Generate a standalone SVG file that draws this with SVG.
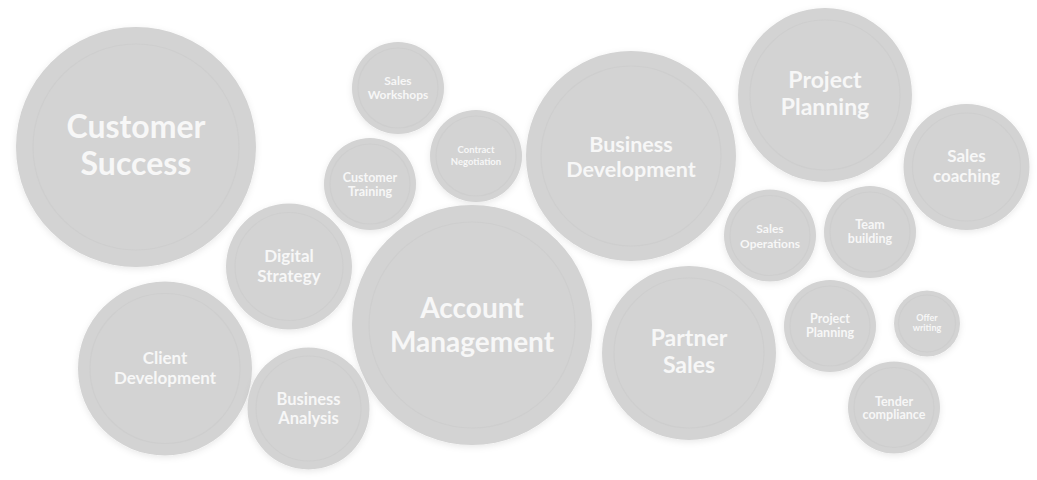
<svg xmlns="http://www.w3.org/2000/svg" width="1037" height="480" viewBox="0 0 1037 480">
  <style>
    .bubble { fill: #d3d3d3; filter: url(#soft); }
    .ring { fill: none; stroke: #cecece; stroke-width: 1.2; }
    .label { fill: #f7f7f7; font-family: Lato, "Open Sans", "Liberation Sans", sans-serif; font-weight: 700; text-anchor: middle; }
  </style>
  <defs>
    <filter id="soft" x="-20%" y="-20%" width="140%" height="140%">
      <feDropShadow dx="0" dy="2" stdDeviation="3" flood-color="#000" flood-opacity="0.09"/>
    </filter>
  </defs>
  <rect width="1037" height="480" fill="#ffffff"/>

  <g id="customer-success">
    <circle class="bubble" cx="136" cy="147" r="120"/>
    <circle class="ring" cx="136" cy="147" r="103"/>
    <text class="label" font-size="32"><tspan x="136" y="138">Customer</tspan><tspan x="136" y="175">Success</tspan></text>
  </g>

  <g id="sales-workshops">
    <circle class="bubble" cx="398" cy="88" r="46"/>
    <circle class="ring" cx="398" cy="88" r="40"/>
    <text class="label" font-size="12"><tspan x="398" y="85">Sales</tspan><tspan x="398" y="99">Workshops</tspan></text>
  </g>

  <g id="contract-negotiation">
    <circle class="bubble" cx="476" cy="156" r="46"/>
    <circle class="ring" cx="476" cy="156" r="40"/>
    <text class="label" font-size="9.5"><tspan x="476" y="153">Contract</tspan><tspan x="476" y="165">Negotiation</tspan></text>
  </g>

  <g id="customer-training">
    <circle class="bubble" cx="370" cy="184" r="46"/>
    <circle class="ring" cx="370" cy="184" r="40"/>
    <text class="label" font-size="12.5"><tspan x="370" y="182">Customer</tspan><tspan x="370" y="195.5">Training</tspan></text>
  </g>

  <g id="business-development">
    <circle class="bubble" cx="631" cy="156" r="105"/>
    <circle class="ring" cx="631" cy="156" r="90"/>
    <text class="label" font-size="21.5"><tspan x="631" y="152">Business</tspan><tspan x="631" y="177">Development</tspan></text>
  </g>

  <g id="project-planning-main">
    <circle class="bubble" cx="825" cy="95" r="87"/>
    <circle class="ring" cx="825" cy="95" r="75"/>
    <text class="label" font-size="23"><tspan x="825" y="88">Project</tspan><tspan x="825" y="115">Planning</tspan></text>
  </g>

  <g id="sales-coaching">
    <circle class="bubble" cx="966.5" cy="167" r="63"/>
    <circle class="ring" cx="966.5" cy="167" r="54"/>
    <text class="label" font-size="17"><tspan x="966.5" y="162">Sales</tspan><tspan x="966.5" y="182">coaching</tspan></text>
  </g>

  <g id="digital-strategy">
    <circle class="bubble" cx="289" cy="266.5" r="63"/>
    <circle class="ring" cx="289" cy="266.5" r="54"/>
    <text class="label" font-size="17"><tspan x="289" y="262">Digital</tspan><tspan x="289" y="282">Strategy</tspan></text>
  </g>

  <g id="account-management">
    <circle class="bubble" cx="472" cy="325" r="120"/>
    <circle class="ring" cx="472" cy="325" r="103"/>
    <text class="label" font-size="28"><tspan x="472" y="318">Account</tspan><tspan x="472" y="352">Management</tspan></text>
  </g>

  <g id="client-development">
    <circle class="bubble" cx="165" cy="368.5" r="87"/>
    <circle class="ring" cx="165" cy="368.5" r="75"/>
    <text class="label" font-size="17"><tspan x="165" y="364">Client</tspan><tspan x="165" y="383.5">Development</tspan></text>
  </g>

  <g id="business-analysis">
    <circle class="bubble" cx="308.5" cy="408.5" r="61"/>
    <circle class="ring" cx="308.5" cy="408.5" r="52.5"/>
    <text class="label" font-size="16.5"><tspan x="308.5" y="405">Business</tspan><tspan x="308.5" y="424">Analysis</tspan></text>
  </g>

  <g id="partner-sales">
    <circle class="bubble" cx="689" cy="353" r="87"/>
    <circle class="ring" cx="689" cy="353" r="75"/>
    <text class="label" font-size="23"><tspan x="689" y="346">Partner</tspan><tspan x="689" y="373">Sales</tspan></text>
  </g>

  <g id="sales-operations">
    <circle class="bubble" cx="770" cy="235.5" r="46"/>
    <circle class="ring" cx="770" cy="235.5" r="40"/>
    <text class="label" font-size="12"><tspan x="770" y="233">Sales</tspan><tspan x="770" y="247.5">Operations</tspan></text>
  </g>

  <g id="team-building">
    <circle class="bubble" cx="870" cy="232" r="46"/>
    <circle class="ring" cx="870" cy="232" r="40"/>
    <text class="label" font-size="12.5"><tspan x="870" y="229">Team</tspan><tspan x="870" y="243">building</tspan></text>
  </g>

  <g id="project-planning-small">
    <circle class="bubble" cx="830" cy="326" r="46"/>
    <circle class="ring" cx="830" cy="326" r="40"/>
    <text class="label" font-size="12.5"><tspan x="830" y="323">Project</tspan><tspan x="830" y="337">Planning</tspan></text>
  </g>

  <g id="offer-writing">
    <circle class="bubble" cx="927" cy="323.5" r="33"/>
    <circle class="ring" cx="927" cy="323.5" r="28.5"/>
    <text class="label" font-size="9"><tspan x="927" y="321">Offer</tspan><tspan x="927" y="331">writing</tspan></text>
  </g>

  <g id="tender-compliance">
    <circle class="bubble" cx="894" cy="407.5" r="46"/>
    <circle class="ring" cx="894" cy="407.5" r="40"/>
    <text class="label" font-size="12.5"><tspan x="894" y="405.5">Tender</tspan><tspan x="894" y="419">compliance</tspan></text>
  </g>

  <g id="connectors"/>
</svg>
